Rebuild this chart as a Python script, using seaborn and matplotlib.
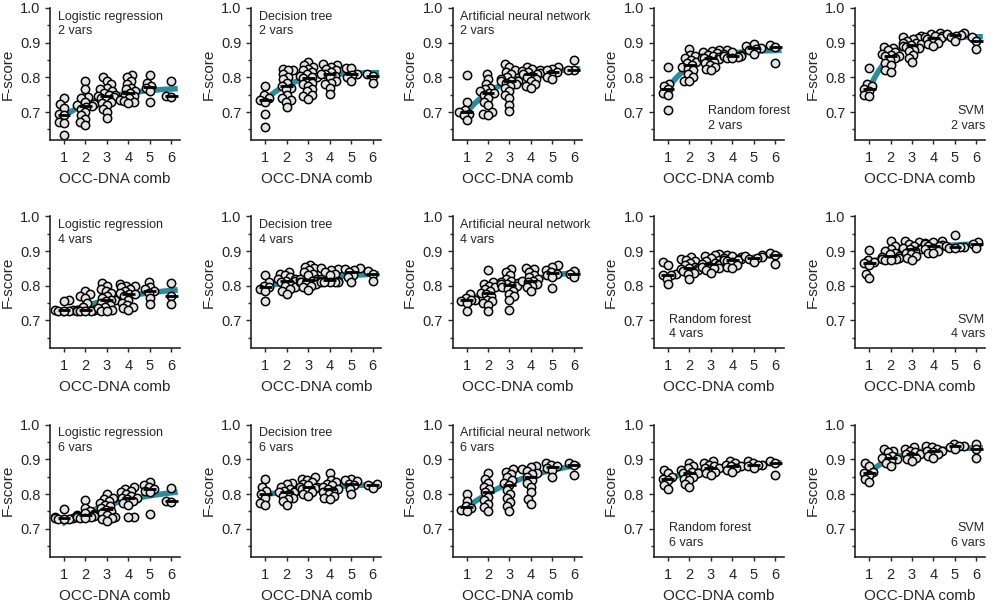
import numpy as np
import pandas as pd
import matplotlib
matplotlib.use("Agg")
import matplotlib.pyplot as plt
from matplotlib.ticker import MultipleLocator
import seaborn as sns

##############################################
### DATA (F-score per OCC-DNA combination) ###
##############################################

comb = [1, 2, 3, 4, 5, 6]
models = ["Logistic regression", "Decision tree", "Artificial neural network", "Random forest", "SVM"]
n_vars = ["2 vars", "4 vars", "6 vars"]

# 2 vars
lr_2 = [[0.739, 0.723, 0.713, 0.693, 0.690, 0.670, 0.667, 0.634],
        [0.789, 0.765, 0.743, 0.740, 0.730, 0.722, 0.720, 0.717, 0.715, 0.710, 0.700, 0.690, 0.680, 0.670, 0.663],
        [0.800, 0.790, 0.780, 0.770, 0.765, 0.760, 0.755, 0.750, 0.748, 0.745, 0.743, 0.740, 0.735, 0.730, 0.725, 0.720, 0.710, 0.700, 0.683],
        [0.808, 0.800, 0.790, 0.780, 0.770, 0.765, 0.760, 0.755, 0.750, 0.745, 0.740, 0.735, 0.733, 0.730, 0.725],
        [0.806, 0.785, 0.775, 0.770, 0.760, 0.728],
        [0.790, 0.745, 0.742]]
dt_2 = [[0.775, 0.748, 0.740, 0.735, 0.728, 0.693, 0.658],
        [0.825, 0.822, 0.820, 0.810, 0.800, 0.795, 0.785, 0.775, 0.770, 0.765, 0.750, 0.740, 0.735, 0.730, 0.715],
        [0.845, 0.835, 0.830, 0.825, 0.820, 0.815, 0.810, 0.805, 0.800, 0.800, 0.798, 0.790, 0.785, 0.780, 0.775, 0.765, 0.760, 0.750, 0.745, 0.738],
        [0.838, 0.835, 0.830, 0.825, 0.820, 0.815, 0.810, 0.810, 0.805, 0.800, 0.790, 0.785, 0.780, 0.770, 0.752],
        [0.828, 0.826, 0.810, 0.808, 0.800, 0.790],
        [0.810, 0.805, 0.785]]
ann_2 = [[0.806, 0.730, 0.705, 0.700, 0.695, 0.690, 0.677],
         [0.810, 0.795, 0.780, 0.770, 0.765, 0.760, 0.755, 0.755, 0.750, 0.740, 0.730, 0.720, 0.700, 0.695, 0.690],
         [0.838, 0.830, 0.820, 0.815, 0.810, 0.800, 0.795, 0.790, 0.790, 0.788, 0.785, 0.780, 0.775, 0.770, 0.760, 0.750, 0.740, 0.720, 0.703],
         [0.830, 0.825, 0.820, 0.818, 0.815, 0.812, 0.810, 0.810, 0.805, 0.800, 0.795, 0.790, 0.780, 0.775, 0.770],
         [0.830, 0.825, 0.820, 0.815, 0.810, 0.800, 0.795],
         [0.850, 0.820, 0.820]]
rf_2 = [[0.830, 0.780, 0.775, 0.765, 0.755, 0.748, 0.707],
        [0.882, 0.865, 0.860, 0.855, 0.850, 0.845, 0.840, 0.835, 0.830, 0.825, 0.820, 0.810, 0.800, 0.790, 0.788],
        [0.878, 0.875, 0.872, 0.870, 0.865, 0.860, 0.858, 0.855, 0.855, 0.852, 0.850, 0.845, 0.840, 0.835, 0.830, 0.825, 0.820],
        [0.880, 0.872, 0.868, 0.865, 0.862, 0.860, 0.860, 0.858, 0.855, 0.855],
        [0.897, 0.890, 0.885, 0.882, 0.878, 0.868],
        [0.893, 0.888, 0.842]]
svm_2 = [[0.828, 0.780, 0.775, 0.765, 0.762, 0.748, 0.745],
         [0.888, 0.885, 0.878, 0.872, 0.868, 0.865, 0.862, 0.860, 0.855, 0.850, 0.840, 0.835, 0.820, 0.815],
         [0.918, 0.915, 0.912, 0.910, 0.905, 0.900, 0.898, 0.895, 0.893, 0.890, 0.888, 0.885, 0.880, 0.875, 0.865, 0.855, 0.843],
         [0.928, 0.925, 0.920, 0.918, 0.915, 0.912, 0.910, 0.905, 0.900, 0.895, 0.890],
         [0.928, 0.925, 0.922, 0.920, 0.915, 0.905],
         [0.915, 0.905, 0.882]]

# 4 vars
lr_4 = [[0.760, 0.755, 0.730, 0.730, 0.728, 0.728, 0.727],
        [0.785, 0.775, 0.770, 0.765, 0.750, 0.740, 0.730, 0.730, 0.730, 0.728, 0.727, 0.727, 0.726],
        [0.808, 0.800, 0.790, 0.785, 0.780, 0.770, 0.765, 0.760, 0.760, 0.755, 0.750, 0.745, 0.740, 0.735, 0.730, 0.728, 0.726],
        [0.805, 0.800, 0.798, 0.795, 0.790, 0.785, 0.780, 0.775, 0.775, 0.770, 0.760, 0.750, 0.745, 0.740, 0.735, 0.730],
        [0.810, 0.795, 0.790, 0.785, 0.780, 0.765, 0.748],
        [0.808, 0.770, 0.748]]
dt_4 = [[0.832, 0.810, 0.800, 0.795, 0.790, 0.785, 0.757],
        [0.840, 0.835, 0.830, 0.825, 0.820, 0.818, 0.815, 0.815, 0.810, 0.805, 0.800, 0.795, 0.790, 0.785, 0.777],
        [0.860, 0.855, 0.850, 0.845, 0.840, 0.835, 0.830, 0.820, 0.818, 0.815, 0.815, 0.812, 0.810, 0.808, 0.805, 0.800, 0.795, 0.787],
        [0.850, 0.848, 0.845, 0.840, 0.835, 0.830, 0.820, 0.815, 0.815, 0.812, 0.812, 0.810, 0.810, 0.810],
        [0.850, 0.848, 0.845, 0.840, 0.830, 0.825, 0.812],
        [0.842, 0.835, 0.815]]
ann_4 = [[0.775, 0.765, 0.760, 0.760, 0.755, 0.750, 0.727],
         [0.845, 0.810, 0.805, 0.800, 0.795, 0.790, 0.785, 0.780, 0.775, 0.770, 0.760, 0.755, 0.750, 0.745, 0.728],
         [0.848, 0.840, 0.830, 0.820, 0.815, 0.810, 0.808, 0.805, 0.805, 0.800, 0.800, 0.795, 0.790, 0.785, 0.775, 0.770, 0.760, 0.730],
         [0.852, 0.848, 0.840, 0.830, 0.825, 0.820, 0.815, 0.815, 0.810, 0.805, 0.800, 0.795, 0.785],
         [0.860, 0.855, 0.845, 0.840, 0.835, 0.830, 0.825, 0.793],
         [0.843, 0.835, 0.825]]
rf_4 = [[0.868, 0.860, 0.835, 0.830, 0.830, 0.820, 0.805],
        [0.882, 0.878, 0.875, 0.870, 0.865, 0.860, 0.855, 0.850, 0.850, 0.848, 0.845, 0.842, 0.838, 0.835, 0.820],
        [0.890, 0.888, 0.885, 0.880, 0.875, 0.870, 0.865, 0.862, 0.862, 0.860, 0.858, 0.855, 0.852, 0.850, 0.845, 0.838],
        [0.888, 0.885, 0.882, 0.880, 0.878, 0.875, 0.875, 0.872, 0.868, 0.860, 0.855, 0.852],
        [0.888, 0.885, 0.882, 0.880, 0.878, 0.868],
        [0.893, 0.888, 0.863]]
svm_4 = [[0.903, 0.875, 0.868, 0.865, 0.860, 0.835, 0.822],
         [0.930, 0.915, 0.905, 0.900, 0.895, 0.890, 0.885, 0.882, 0.880, 0.878, 0.876, 0.875, 0.875],
         [0.928, 0.925, 0.920, 0.915, 0.910, 0.908, 0.905, 0.905, 0.900, 0.895, 0.890, 0.885, 0.880, 0.875],
         [0.928, 0.925, 0.922, 0.920, 0.918, 0.915, 0.915, 0.910, 0.905, 0.900, 0.895, 0.893],
         [0.945, 0.915, 0.912, 0.912, 0.910, 0.908],
         [0.925, 0.920, 0.908]]

# 6 vars
lr_6 = [[0.758, 0.735, 0.730, 0.730, 0.728, 0.728, 0.727],
        [0.783, 0.760, 0.750, 0.745, 0.742, 0.740, 0.740, 0.738, 0.736, 0.735, 0.733, 0.730, 0.730],
        [0.800, 0.790, 0.785, 0.780, 0.775, 0.770, 0.765, 0.760, 0.755, 0.750, 0.745, 0.740, 0.735, 0.730, 0.728, 0.722],
        [0.822, 0.815, 0.810, 0.805, 0.800, 0.795, 0.790, 0.790, 0.785, 0.780, 0.775, 0.770, 0.735, 0.733],
        [0.835, 0.825, 0.820, 0.815, 0.810, 0.805, 0.742],
        [0.818, 0.780, 0.778]]
dt_6 = [[0.845, 0.820, 0.808, 0.800, 0.790, 0.775, 0.770],
        [0.832, 0.828, 0.822, 0.815, 0.810, 0.808, 0.805, 0.805, 0.800, 0.795, 0.790, 0.785, 0.780, 0.770],
        [0.848, 0.845, 0.840, 0.835, 0.830, 0.825, 0.820, 0.820, 0.818, 0.815, 0.810, 0.805, 0.800, 0.795],
        [0.862, 0.840, 0.835, 0.830, 0.825, 0.820, 0.815, 0.815, 0.810, 0.805, 0.800, 0.795, 0.790, 0.785],
        [0.845, 0.840, 0.838, 0.830, 0.825, 0.815, 0.800],
        [0.828, 0.825, 0.818]]
ann_6 = [[0.800, 0.780, 0.765, 0.760, 0.755, 0.750],
         [0.860, 0.845, 0.833, 0.822, 0.815, 0.805, 0.793, 0.782, 0.771, 0.762, 0.752],
         [0.872, 0.865, 0.858, 0.848, 0.840, 0.832, 0.826, 0.812, 0.800, 0.788, 0.776, 0.765, 0.752],
         [0.882, 0.877, 0.871, 0.866, 0.862, 0.858, 0.850, 0.842, 0.833, 0.822, 0.805, 0.785, 0.772],
         [0.890, 0.885, 0.880, 0.875, 0.870, 0.850],
         [0.890, 0.885, 0.855]]
rf_6 = [[0.870, 0.860, 0.850, 0.845, 0.840, 0.825, 0.815],
        [0.890, 0.880, 0.875, 0.870, 0.865, 0.860, 0.860, 0.855, 0.850, 0.845, 0.840, 0.830, 0.820],
        [0.895, 0.890, 0.885, 0.880, 0.875, 0.875, 0.870, 0.865, 0.860, 0.855],
        [0.895, 0.890, 0.885, 0.880, 0.880, 0.875, 0.870, 0.865],
        [0.895, 0.890, 0.885, 0.885, 0.880, 0.875],
        [0.895, 0.890, 0.855]]
svm_6 = [[0.890, 0.880, 0.865, 0.860, 0.855, 0.845, 0.835],
         [0.930, 0.925, 0.920, 0.910, 0.905, 0.905, 0.900, 0.895, 0.890, 0.880],
         [0.935, 0.930, 0.925, 0.920, 0.915, 0.915, 0.910, 0.905, 0.900, 0.895],
         [0.940, 0.935, 0.930, 0.925, 0.925, 0.920, 0.915, 0.910, 0.905],
         [0.945, 0.940, 0.940, 0.935, 0.930],
         [0.945, 0.930, 0.905]]

panels = [[lr_2, dt_2, ann_2, rf_2, svm_2],
          [lr_4, dt_4, ann_4, rf_4, svm_4],
          [lr_6, dt_6, ann_6, rf_6, svm_6]]

##############################################
### STYLE ####################################
##############################################
teal = "#2a8c9e"
sns.set_style("ticks")
plt.rcParams["font.family"] = ["Liberation Sans", "DejaVu Sans"]

swarm_size = 2.7   # marker size used to lay out the swarm (allows overlap)
marker_size = 6.0  # marker size actually drawn


def fit_curve(x, y, w):
    # saturating exponential y = a - b*exp(-k*(x-1)), weighted, grid search on k
    sw = np.sqrt(w)
    best = None
    for k in np.linspace(0.3, 1.1, 161):
        A = np.column_stack([np.ones_like(x), -np.exp(-k * (x - 1))])
        coef = np.linalg.lstsq(A * sw[:, None], y * sw, rcond=None)[0]
        err = np.sum(w * (A @ coef - y) ** 2)
        if best is None or err < best[0]:
            best = (err, coef, k)
    _, (a, b), k = best
    return lambda xx: a - b * np.exp(-k * (xx - 1))


fig, axes = plt.subplots(3, 5, figsize=(10, 6.07), dpi=100)
fig.subplots_adjust(left=0.05, right=0.985, top=0.987, bottom=0.083, wspace=0.55, hspace=0.58)

swarms = []
for r in range(3):
    for c in range(5):
        ax = axes[r, c]
        groups = panels[r][c]
        df = pd.DataFrame({
            "comb": np.concatenate([[comb[i]] * len(g) for i, g in enumerate(groups)]),
            "fscore": np.concatenate(groups),
        })

        # fitted curve through group medians, weighted by group size
        meds = np.array([np.median(g) for g in groups])
        sizes = np.array([len(g) for g in groups], float)
        f = fit_curve(np.array(comb, float), meds, sizes)
        xs = np.linspace(0.9, 6.3, 200)
        ax.plot(xs, f(xs), color=teal, lw=4, zorder=0.5, solid_capstyle="butt")

        n0 = len(ax.collections)
        sns.swarmplot(data=df, x="comb", y="fscore", native_scale=True, ax=ax,
                      color="#e4e4e4", edgecolor="black", linewidth=1.1, size=swarm_size,
                      warn_thresh=1, zorder=2)
        swarms += ax.collections[n0:]

        # median lines
        for i, g in enumerate(groups):
            ax.hlines(np.median(g), comb[i] - 0.3, comb[i] + 0.3, color="black", lw=2, zorder=3)

        ax.set_xlim(0.35, 6.4)
        ax.set_ylim(0.62, 1.0)
        ax.set_xticks(comb)
        ax.set_xticklabels([str(v) for v in comb])
        ax.set_yticks([0.7, 0.8, 0.9, 1.0])
        ax.set_yticklabels(["0.7", "0.8", "0.9", "1.0"])
        ax.yaxis.set_minor_locator(MultipleLocator(0.05))
        ax.tick_params(axis="both", which="major", labelsize=10.5, length=3.5, width=1, direction="out")
        ax.tick_params(axis="y", which="minor", length=2.5, width=1)
        ax.tick_params(axis="x", which="major", length=3, pad=5)
        ax.set_xlabel("OCC-DNA comb", fontsize=11, labelpad=5)
        ax.set_ylabel("F-score", fontsize=11, labelpad=4)
        sns.despine(ax=ax)
        for s in ["left", "bottom"]:
            ax.spines[s].set_linewidth(1.2)

        label = f"{models[c]}\n{n_vars[r]}"
        if c < 3:
            ax.text(0.06, 0.98, label, transform=ax.transAxes, ha="left", va="top",
                    fontsize=9, linespacing=1.3)
        elif c == 3:
            tx = 0.42 if r == 0 else 0.12
            ax.text(tx, 0.06, label, transform=ax.transAxes, ha="left", va="bottom",
                    fontsize=9, linespacing=1.3)
        else:
            ax.text(1.0, 0.06, label, transform=ax.transAxes, ha="right", va="bottom",
                    fontsize=9, linespacing=1.3, multialignment="right")

# lay out the swarms once with the small size, then freeze positions and enlarge markers
fig.canvas.draw()
for coll in swarms:
    if "draw" in coll.__dict__:
        del coll.draw
    coll.set_sizes([marker_size ** 2])

fig.savefig("out.png", dpi=100)
